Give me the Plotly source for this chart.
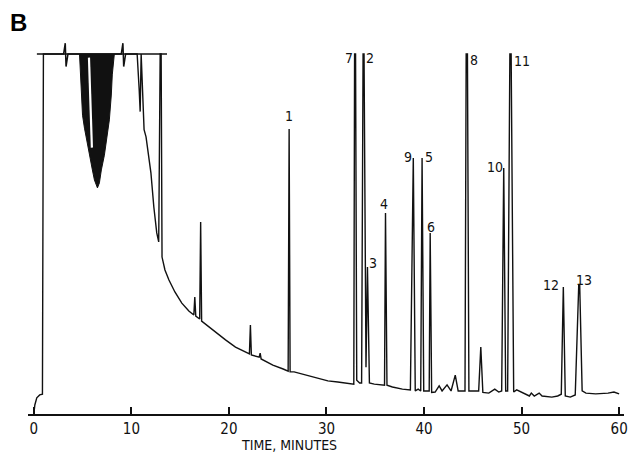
import plotly.graph_objects as go

# ---------------- data ----------------
trace_time = [0.0, 0.1, 0.3, 0.6, 0.88, 0.93, 0.98, 4.7, 8.25, 10.59, 10.8, 10.9, 11.0, 11.3, 11.5,
              11.8, 12.0, 12.3, 12.6, 12.8, 12.95, 13.05, 13.14, 13.44, 13.85, 14.46, 15.17, 15.89, 16.4,
              16.5, 16.6, 17.0, 17.1, 17.2, 17.72, 18.64, 19.65, 20.67, 21.49, 22.1, 22.2, 22.3,
              23.1, 23.2, 23.3, 24.5, 25.56, 26.07, 26.17, 26.27, 26.68, 28.1, 29.12, 30.14, 31.16,
              32.38, 32.8, 32.88, 32.98, 33.1, 33.4, 33.6, 33.75, 33.85, 34.05, 34.2, 34.4, 34.9,
              35.74, 35.95, 36.05, 36.2, 36.76, 37.78, 38.6, 38.9, 39.1, 39.4, 39.66, 39.8, 39.97,
              40.53, 40.63, 40.78, 41.14, 41.55, 41.85, 42.36, 42.77, 43.2, 43.5, 44.2, 44.32, 44.45,
              44.6, 45.1, 45.6, 45.82, 46.03, 46.64, 47.25, 47.66, 47.96, 48.17, 48.37, 48.57, 48.8,
              48.93, 49.19, 49.5, 50.2, 50.8, 51.0, 51.3, 51.8, 52.1, 53.1, 53.7, 54.07, 54.28, 54.48,
              54.99, 55.5, 55.86, 55.96, 56.21, 56.6, 57.6, 58.86, 59.47, 60.0]
trace_signal = [0.0, 2.5, 4.5, 5.3, 5.5, 100, 100, 100, 100, 100, 90, 84, 100, 79, 77,
                70.5, 67, 57.5, 50.3, 47.8, 100, 100, 43.6, 40, 37.2, 33.9, 30.8, 28.6, 27.5,
                32.5, 27.2, 26.4, 53.3, 25.8, 24.7, 22.5, 20.6, 18.6, 17.5, 16.7, 24.7, 16.4,
                15.8, 16.9, 15.3, 13.6, 12.5, 11.9, 79.2, 11.7, 11.7, 10.6, 10.0, 9.2, 8.9,
                8.3, 8.3, 100, 100, 9.4, 8.6, 8.6, 100, 100, 13, 40.8, 8.6, 8.3,
                8.1, 8.0, 55.8, 8.0, 7.5, 6.9, 6.7, 71.1, 6.4, 6.9, 6.4, 71.1, 6.4,
                6.4, 50.3, 6.0, 6.1, 7.8, 6.4, 8.1, 6.4, 10.8, 6.4, 6.4, 100, 100,
                6.4, 6.4, 6.4, 18.6, 6.0, 5.8, 6.9, 6.1, 6.4, 68.3, 6.4, 6.4, 100,
                100, 6.1, 6.7, 5.8, 5.0, 5.8, 5.0, 5.8, 5.0, 4.7, 5.0, 5.5, 35.3, 5.0,
                4.7, 5.3, 35.8, 35.8, 6.4, 5.8, 5.6, 5.8, 6.1, 5.6]

# unresolved solvent/volatile envelope (off-scale region, drawn solid)
mass_time = [4.68, 4.79, 4.89, 4.99, 5.19, 5.4, 5.7, 6.0, 6.21, 6.42, 6.52,
             6.72, 6.92, 7.23, 7.54, 7.74, 7.94, 8.04, 8.25]
mass_signal = [100, 92, 87.2, 83, 79.4, 76.1, 71.9, 67.8, 65, 63.3, 62.8,
               64.2, 67.8, 71.9, 77.5, 81.7, 88.6, 94.2, 100]
gap_time = [5.65, 5.95]
gap_signal = [99, 74]

# recorder pen-limit line with break marks
limit_time = [0.31, 3.05, 3.22, 3.3, 3.5, 8.96, 9.13, 9.21, 9.41, 13.65]
limit_signal = [100, 100, 103, 96.5, 100, 100, 103, 96.5, 100, 100]

# peak labels
label_text = ["1", "7", "2", "3", "4", "9", "5", "6", "8", "10", "11", "12", "13"]
label_time = [26.17, 32.3, 34.5, 34.8, 35.85, 38.4, 40.5, 40.73, 45.1, 47.25, 50.0, 53.05, 56.4]
label_signal = [82.8, 98.9, 98.9, 41.9, 58.3, 71.4, 71.4, 51.9, 98.3, 68.6, 98.0, 35.8, 37.2]

x_ticks = [0, 10, 20, 30, 40, 50, 60]
x_title = "TIME, MINUTES"
panel_letter = "B"

INK = "#111111"
FONT = "DejaVu Sans Condensed, Liberation Sans Narrow, Arial Narrow, sans-serif"

fig = go.Figure()
fig.add_trace(go.Scatter(x=mass_time, y=mass_signal, mode="lines", fill="toself",
                         fillcolor=INK, line=dict(color=INK, width=1), hoverinfo="skip"))
fig.add_trace(go.Scatter(x=gap_time, y=gap_signal, mode="lines",
                         line=dict(color="white", width=2.2), hoverinfo="skip"))
fig.add_trace(go.Scatter(x=limit_time, y=limit_signal, mode="lines",
                         line=dict(color=INK, width=1.5), hoverinfo="skip"))
fig.add_trace(go.Scatter(x=trace_time, y=trace_signal, mode="lines",
                         line=dict(color=INK, width=1.4), hoverinfo="skip"))

for txt, t, s in zip(label_text, label_time, label_signal):
    fig.add_annotation(x=t, y=s, xref="x", yref="y", text=txt, showarrow=False,
                       font=dict(family=FONT, size=14, color=INK), xanchor="center", yanchor="middle")

fig.add_annotation(x=26.2, y=(414 - 445) / 378, xref="x", yref="paper", text=x_title, showarrow=False,
                   font=dict(family=FONT, size=14, color=INK), xanchor="center", yanchor="middle")
fig.add_annotation(x=(18 - 28) / 600, y=(414 - 23) / 378, xref="paper", yref="paper",
                   text="<b>%s</b>" % panel_letter, showarrow=False,
                   font=dict(family="Liberation Sans, Arial, sans-serif", size=24, color="#000"),
                   xanchor="center", yanchor="middle")

fig.update_layout(
    width=637, height=452,
    margin=dict(l=28, r=9, t=36, b=38),
    paper_bgcolor="white", plot_bgcolor="white",
    showlegend=False,
    xaxis=dict(range=[-0.6, 60.5], tickvals=x_ticks, ticktext=[str(v) for v in x_ticks],
               ticks="inside", ticklen=7, tickwidth=1.5, tickcolor=INK,
               showline=True, linecolor=INK, linewidth=1.5, showgrid=False, zeroline=False,
               tickfont=dict(family=FONT, size=15, color=INK), fixedrange=True),
    yaxis=dict(range=[0, 105], visible=False, fixedrange=True),
)

fig.write_html("out.html")
